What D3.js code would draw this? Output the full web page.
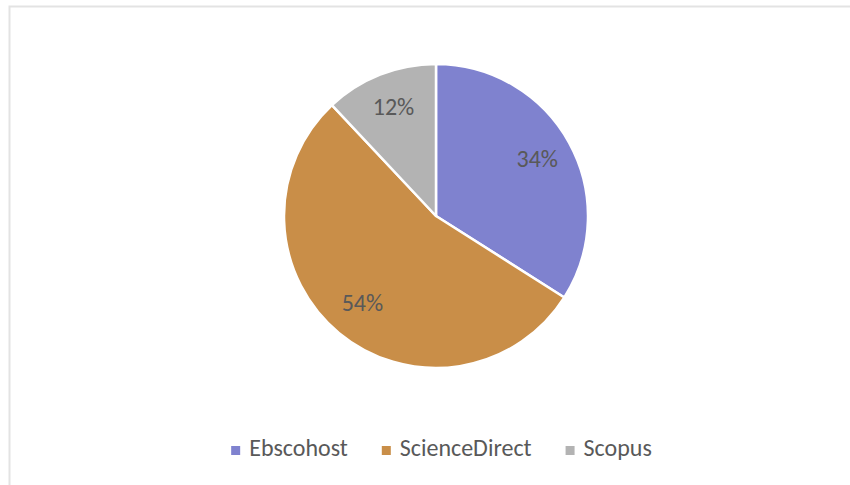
<!DOCTYPE html>
<html>
<head>
<meta charset="utf-8">
<script src="https://cdn.jsdelivr.net/npm/d3@7"></script>
<style>
  body { margin: 0; background: #fff; }
  svg { display: block; }
</style>
</head>
<body>
<svg width="850" height="485"></svg>
<script>
// data
var sources = ["Ebscohost", "ScienceDirect", "Scopus"];
var shares = [34, 54, 12];
var colours = ["#7f82cf", "#c98e48", "#b3b3b3"];

var svg = d3.select("svg"),
    width = +svg.attr("width"),
    height = +svg.attr("height");

var font = "Calibri, Carlito, Lato, sans-serif";

// chart frame (clipped at right and bottom)
svg.append("rect")
  .attr("x", 9.5).attr("y", 6.5)
  .attr("width", 860).attr("height", 500)
  .attr("fill", "none")
  .attr("stroke", "#e3e3e3")
  .attr("stroke-width", 2);

var cx = 436, cy = 216, radius = 152;

var colour = d3.scaleOrdinal().domain(sources).range(colours);

var pie = d3.pie().sort(null).value(d => d.value);
var data = sources.map((s, i) => ({ name: s, value: shares[i] }));
var arcs = pie(data);

var arc = d3.arc().innerRadius(0).outerRadius(radius);
var labelArc = d3.arc().innerRadius(radius * 0.76).outerRadius(radius * 0.76);

var g = svg.append("g").attr("transform", "translate(" + cx + "," + cy + ")");

g.selectAll("path")
  .data(arcs)
  .enter().append("path")
  .attr("d", arc)
  .attr("fill", d => colour(d.data.name))
  .attr("stroke", "#fff")
  .attr("stroke-width", 2.5)
  .attr("stroke-linejoin", "round");

var total = d3.sum(shares);
g.selectAll("text.lbl")
  .data(arcs)
  .enter().append("text")
  .attr("class", "lbl")
  .attr("transform", d => "translate(" + labelArc.centroid(d) + ")")
  .attr("text-anchor", "middle")
  .attr("dy", "0.26em")
  .style("font-family", font)
  .style("font-size", "24px")
  .attr("fill", "#595959")
  .text(d => Math.round(d.data.value / total * 100) + "%");

// legend
var legend = svg.append("g");
var x = 0, gap = 34;
sources.forEach(function(s) {
  var item = legend.append("g").attr("transform", "translate(" + x + ",0)");
  item.append("rect")
    .attr("x", 0).attr("y", -10)
    .attr("width", 9).attr("height", 9)
    .attr("fill", colour(s));
  var t = item.append("text")
    .attr("x", 18).attr("y", 0)
    .style("font-family", font)
    .style("font-size", "24px")
    .attr("fill", "#595959")
    .text(s);
  x += 18 + t.node().getComputedTextLength() + gap;
});
var legendWidth = x - gap;
legend.attr("transform", "translate(" + (441.5 - legendWidth / 2) + ",456)");
</script>
</body>
</html>
